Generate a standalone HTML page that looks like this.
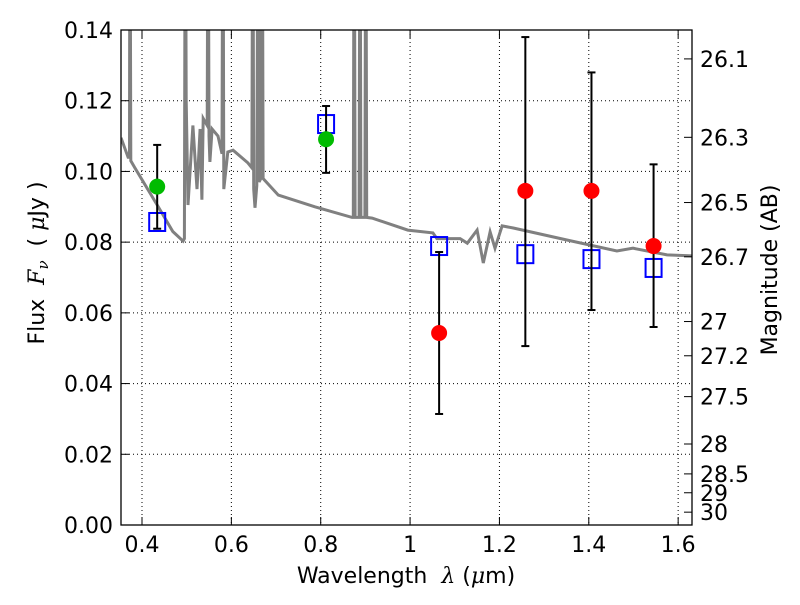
<!DOCTYPE html>
<html><head><meta charset="utf-8"><style>
body{margin:0;background:#fff;}
svg text{font-family:"DejaVu Sans","Liberation Sans",sans-serif;}
</style></head><body>
<svg id="chart" width="800" height="600" xmlns="http://www.w3.org/2000/svg"></svg>
<script>
const specWl=[0.353,0.369,0.372,0.373,0.375,0.384,0.434,0.469,0.492,0.495,0.497,0.499,0.503,0.514,0.523,0.530,0.534,0.537,0.546,0.548,0.550,0.552,0.557,0.570,0.579,0.581,0.583,0.592,0.604,0.637,0.646,0.648,0.650,0.653,0.657,0.660,0.662,0.666,0.669,0.671,0.705,0.787,0.870,0.873,0.875,0.877,0.886,0.888,0.890,0.899,0.901,0.903,0.915,0.995,1.051,1.060,1.112,1.128,1.150,1.164,1.179,1.190,1.206,1.231,1.351,1.463,1.499,1.575,1.631];
const specF=[0.1095,0.104,0.104,0.2,0.103,0.101,0.0905,0.083,0.0803,0.081,0.2,0.12,0.0905,0.113,0.095,0.112,0.092,0.115,0.113,0.2,0.11,0.1027,0.112,0.110,0.105,0.2,0.095,0.1055,0.106,0.1024,0.101,0.2,0.095,0.0897,0.096,0.2,0.097,0.098,0.2,0.098,0.0933,0.090,0.087,0.087,0.2,0.087,0.087,0.2,0.087,0.087,0.2,0.087,0.0868,0.0834,0.0826,0.081,0.081,0.0797,0.0834,0.0741,0.0829,0.0783,0.0846,0.084,0.0806,0.0775,0.0783,0.0764,0.0761];
const obsWl=[0.434,0.812,1.065,1.258,1.406,1.545];
const obsF=[0.0957,0.1091,0.0543,0.0945,0.0945,0.0789];
const obsLo=[0.0838,0.0996,0.0314,0.0506,0.0608,0.056];
const obsHi=[0.1075,0.1185,0.0772,0.138,0.128,0.102];
const obsColor=['#00bb00','#00bb00','red','red','red','red'];
const modelF=[0.0857,0.1134,0.0789,0.0766,0.0752,0.0727];
const xTicks=[0.4,0.6,0.8,1.0,1.2,1.4,1.6];
const xTickLabels=['0.4','0.6','0.8','1','1.2','1.4','1.6'];
const yTicks=[0,0.02,0.04,0.06,0.08,0.1,0.12,0.14];
const magTicks=[26.1,26.3,26.5,26.7,27,27.2,27.5,28,28.5,29,30];

const L=121,R=692,T=30,B=525,X0=0.353,X1=1.631,Y0=0,Y1=0.14;
const sx=v=>L+(v-X0)/(X1-X0)*(R-L);
const sy=v=>B-(v-Y0)/(Y1-Y0)*(B-T);
const magToF=m=>Math.pow(10,(23.9-m)/2.5);
const NS='http://www.w3.org/2000/svg';
const svg=document.getElementById('chart');
function mk(tag,attrs,parent){const e=document.createElementNS(NS,tag);for(const k in attrs)e.setAttribute(k,attrs[k]);(parent||svg).appendChild(e);return e;}
const defs=mk('defs',{});const cp=mk('clipPath',{id:'clip'},defs);mk('rect',{x:L,y:T,width:R-L,height:B-T},cp);

xTicks.forEach(v=>{const g=mk('line',{x1:sx(v),x2:sx(v),y1:T,y2:B,stroke:'#000','stroke-dasharray':'1,3','stroke-width':1});

});
yTicks.forEach(v=>{const g=mk('line',{x1:L,x2:R,y1:sy(v),y2:sy(v),stroke:'#000','stroke-dasharray':'1,3','stroke-width':1});

});

const pts=specWl.map((w,i)=>sx(w).toFixed(1)+','+sy(specF[i]).toFixed(1)).join(' ');
const sp=mk('polyline',{points:pts,fill:'none',stroke:'#808080','stroke-width':3,'clip-path':'url(#clip)'});



obsWl.forEach((w,i)=>{const r=mk('rect',{x:sx(w)-8,y:sy(modelF[i])-9,width:16,height:18,fill:'none',stroke:'#0000ff','stroke-width':2});

});
obsWl.forEach((w,i)=>{const g=mk('g',{stroke:'#000','stroke-width':2});


const x=sx(w);mk('line',{x1:x,x2:x,y1:sy(obsHi[i]),y2:sy(obsLo[i])},g);
mk('line',{x1:x-4,x2:x+4,y1:sy(obsHi[i]),y2:sy(obsHi[i])},g);
mk('line',{x1:x-4,x2:x+4,y1:sy(obsLo[i]),y2:sy(obsLo[i])},g);});
obsWl.forEach((w,i)=>{const c=mk('circle',{cx:sx(w),cy:sy(obsF[i]),r:8,fill:obsColor[i]});

});

const fr=mk('rect',{x:L,y:T,width:R-L,height:B-T,fill:'none',stroke:'#000','stroke-width':1.3});



xTicks.forEach((v,i)=>{const x=sx(v);mk('line',{x1:x,x2:x,y1:B,y2:B-8,stroke:'#000'});mk('line',{x1:x,x2:x,y1:T,y2:T+8,stroke:'#000'});
const t=mk('text',{x:x,y:B+27,'font-size':22,'text-anchor':'middle'});t.textContent=xTickLabels[i];

});
yTicks.forEach(v=>{const y=sy(v);mk('line',{x1:L,x2:L+8,y1:y,y2:y,stroke:'#000'});
const t=mk('text',{x:L-8,y:y+8,'font-size':22,'text-anchor':'end'});t.textContent=v.toFixed(2);

});
magTicks.forEach(m=>{const y=sy(magToF(m));mk('line',{x1:R,x2:R-8,y1:y,y2:y,stroke:'#000'});
const t=mk('text',{x:R+8,y:y+8,'font-size':22});t.textContent=String(m);

});
</script>
<svg style="position:absolute;left:0;top:0" width="800" height="600" xml:space="preserve">
<text x="406" y="583" font-size="22" text-anchor="middle" font-family="DejaVu Sans, sans-serif" xml:space="preserve">Wavelength  <tspan font-style="italic" font-family="DejaVu Serif, serif">λ</tspan> (<tspan font-style="italic" font-family="DejaVu Serif, serif">μ</tspan>m)</text>
<text transform="translate(44,263) rotate(-90)" font-size="22" text-anchor="middle" font-family="DejaVu Sans, sans-serif" xml:space="preserve">Flux  <tspan font-style="italic" font-family="DejaVu Serif, serif">F</tspan><tspan font-style="italic" font-size="15" dy="4" font-family="DejaVu Serif, serif">ν</tspan><tspan dy="-4">  ( </tspan><tspan font-style="italic" font-family="DejaVu Serif, serif">μ</tspan>Jy )</text>
<text transform="translate(777,270) rotate(-90)" font-size="22" text-anchor="middle" font-family="DejaVu Sans, sans-serif">Magnitude (AB)</text>
</svg>
</body></html>
